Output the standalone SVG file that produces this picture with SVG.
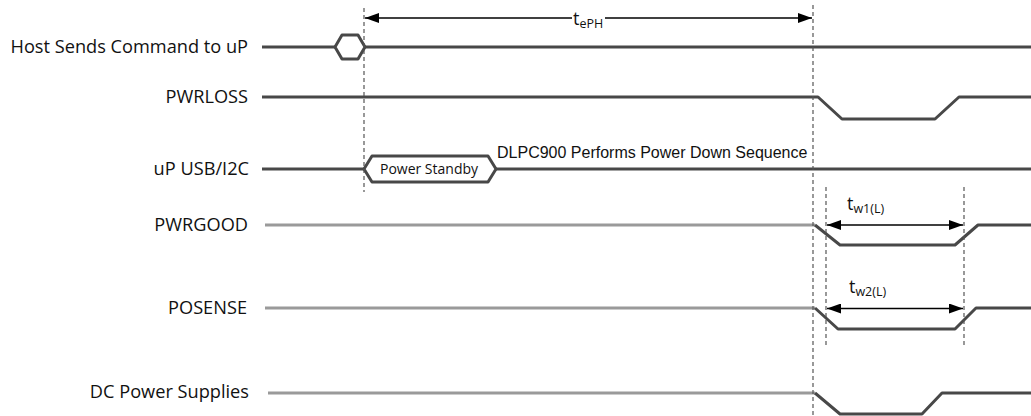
<svg xmlns="http://www.w3.org/2000/svg" width="1031" height="416" viewBox="0 0 1031 416">
<style>
.lbl{font-family:"Open Sans","Liberation Sans",sans-serif;font-size:18.2px;fill:#111;text-anchor:end}
.sig{fill:none;stroke:#484848;stroke-width:3;stroke-linejoin:round}
.sigl{fill:none;stroke:#9a9a9a;stroke-width:3}
.dash{stroke:#555;stroke-width:1.2;stroke-dasharray:4,3;fill:none}
.dim{stroke:#000;stroke-width:1.3;fill:none}
.t{font-family:"Open Sans","Liberation Sans",sans-serif;fill:#111}
.ar{font-family:"Liberation Sans",Arial,sans-serif;font-size:16px;fill:#111}
</style>
<defs>
<marker id="ah" markerWidth="14" markerHeight="10" refX="14" refY="5" orient="auto-start-reverse" markerUnits="userSpaceOnUse">
<path d="M0,0 L14,5 L0,10 Z" fill="#000"/>
</marker>
</defs>
<rect width="1031" height="416" fill="#fff"/>

<g id="host">
<text class="lbl" x="248" y="53">Host Sends Command to uP</text>
<path class="sig" d="M262,47 H335 M365,47 H1031"/>
<polygon class="sig" points="335,47 342,35 358,35 365,47 358,59 342,59"/>
</g>

<g id="pwrloss">
<text class="lbl" x="248" y="103">PWRLOSS</text>
<polyline class="sig" points="262,97 818,97 842,119 935,119 959,97 1031,97"/>
</g>

<g id="upusb">
<text class="lbl" x="249" y="175">uP USB/I2C</text>
<path class="sig" d="M262,169 H364 M496,169 H1031"/>
<polygon class="sig" points="364,169 372,156 488,156 496,169 488,182 372,182"/>
<text class="t" x="429" y="174" font-size="14" text-anchor="middle">Power Standby</text>
<text class="ar" x="497" y="158">DLPC900 Performs Power Down Sequence</text>
</g>

<g id="pwrgood">
<text class="lbl" x="248" y="231">PWRGOOD</text>
<path class="sigl" d="M265,225 H815"/>
<polyline class="sig" points="815,225 840,245 955,245 978,225 1031,225"/>
</g>

<g id="posense">
<text class="lbl" x="247" y="314">POSENSE</text>
<path class="sigl" d="M265,308 H815"/>
<polyline class="sig" points="815,308 838,329 955,329 976,308 1031,308"/>
</g>

<g id="dc">
<text class="lbl" x="249" y="398">DC Power Supplies</text>
<path class="sigl" d="M268,393 H815"/>
<polyline class="sig" points="815,393 840,414 922,414 942,393 1031,393"/>
</g>

<g id="connectors">
<line class="dash" x1="364" y1="8" x2="364" y2="192"/>
<line class="dash" x1="813" y1="5" x2="813" y2="416"/>
<line class="dash" x1="826" y1="187" x2="826" y2="346"/>
<line class="dash" x1="964" y1="187" x2="964" y2="346"/>
<line class="dim" x1="365" y1="18" x2="572" y2="18" marker-start="url(#ah)"/>
<line class="dim" x1="605" y1="18" x2="812" y2="18" marker-end="url(#ah)"/>
<line class="dim" x1="827" y1="225" x2="963" y2="225" marker-start="url(#ah)" marker-end="url(#ah)"/>
<line class="dim" x1="827" y1="308.5" x2="963" y2="308.5" marker-start="url(#ah)" marker-end="url(#ah)"/>
</g>

<g id="labels">
<text class="t" x="573" y="25" font-size="18">t<tspan font-size="12.5" dy="3">ePH</tspan></text>
<text class="t" x="847" y="210" font-size="18">t<tspan font-size="12.5" dy="3">w1(L)</tspan></text>
<text class="t" x="849" y="293" font-size="18">t<tspan font-size="12.5" dy="3">w2(L)</tspan></text>
</g>
</svg>
